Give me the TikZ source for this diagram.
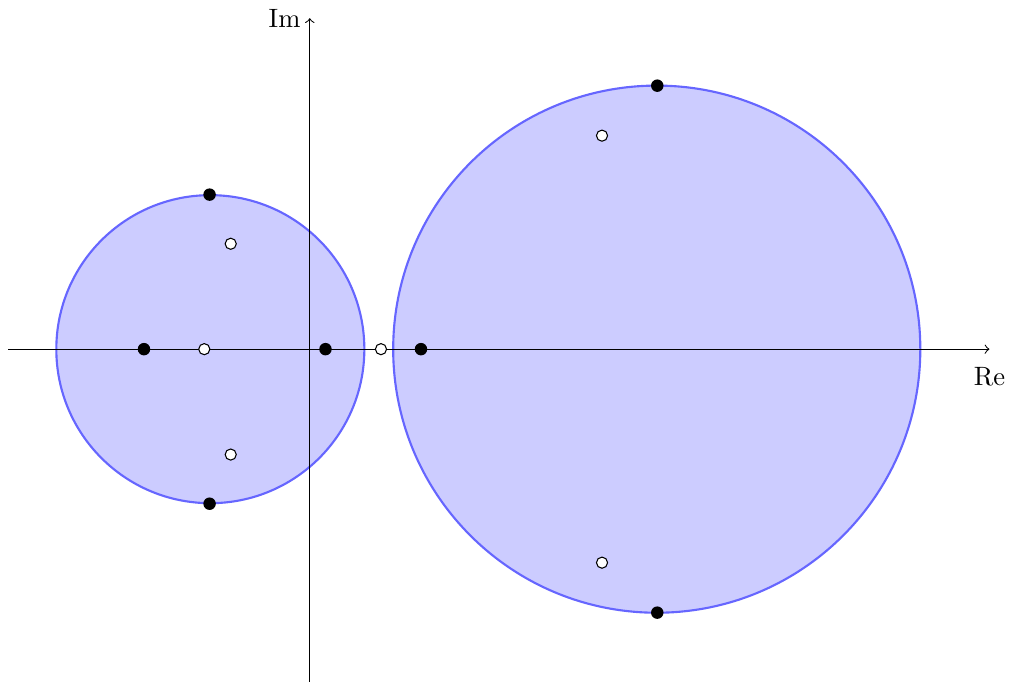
\documentclass[tikz,border=0pt]{standalone}
\begin{document}
\begin{tikzpicture}[fdot/.style={fill=black}, odot/.style={draw=black, fill=white, thin}]
        \useasboundingbox (-4.106,-4.408) rectangle (9.325,4.625);
        \filldraw[fill=blue!20, draw=blue!60, thick] (-1.32,0) circle(2.04);
        \filldraw[fill=blue!20, draw=blue!60, thick] (4.593,0) circle(3.491);
        \draw[->] (-4,0) -- (9,0) node[below=3.2pt] {Re};
        \draw[->] (-0.003,-4.5) -- (-0.003,4.384) node[left] {Im};
        \foreach \p in {(-2.199,0), (0.205,0), (1.47,0), (-1.33,2.047), (-1.33,-2.047), (4.6,3.49), (4.6,-3.49)}
            \fill[fdot] \p circle(2.35pt);
        \foreach \p in {(-1.4,0), (0.94,0), (-1.05,1.396), (-1.05,-1.396), (3.868,2.828), (3.868,-2.828)}
            \filldraw[odot] \p circle(2.1pt);
        %\draw[dashed] (-4,-4) grid (9,4);
    \end{tikzpicture}
\end{document}
